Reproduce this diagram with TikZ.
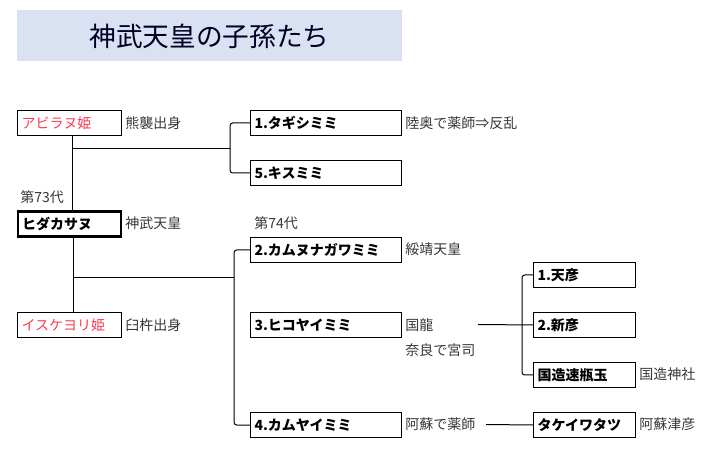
\documentclass[tikz,border=0pt]{standalone}
\usepackage{fontspec}
\setmainfont{Noto Sans CJK JP}
\definecolor{titlebg}{RGB}{217,225,242}
\definecolor{namered}{RGB}{250,60,80}
\definecolor{labgray}{RGB}{55,55,55}
\begin{document}
\begin{tikzpicture}[x=0.75pt,y=-0.75pt,
  bx/.style={draw, line width=0.75pt, inner xsep=3pt, inner ysep=0pt,
    anchor=north west, align=left, minimum height=18.75pt,
    font=\fontsize{10.5}{12}\selectfont\bfseries},
  wl/.style={bx, text width=72pt},
  wr/.style={bx, text width=107.25pt},
  wt/.style={bx, text width=70.5pt},
  hime/.style={font=\fontsize{10.5}{12}\selectfont, text=namered},
  lab/.style={anchor=west, inner sep=0pt, text=labgray,
    font=\fontsize{10.5}{12}\selectfont},
  conn/.style={line width=0.75pt, rounded corners=2pt}]
\useasboundingbox (0,0) rectangle (715,449);
% title
\fill[titlebg] (17,10) rectangle (402,61);
\node[font=\fontsize{20}{22}\selectfont, text=black!85!blue] (title) at (209.5,36) {神武天皇の子孫たち};
% left column
\node[wl, hime] (abira) at (17,110) {アビラヌ姫};
\node[wl, line width=1.6pt, text width=71pt] (hidaka) at (17,210.5) {ヒダカサヌ};
\node[wl, hime] (iske) at (17,312) {イスケヨリ姫};
\node[lab] (l1) at (125,123) {熊襲出身};
\node[lab] (l2) at (125,223) {神武天皇};
\node[lab] (l3) at (125,325) {臼杵出身};
\node[lab] (g73) at (20,197) {第73代};
% middle column
\node[wr] (tagi) at (250,110) {1.タギシミミ};
\node[wr] (kisu) at (250,160) {5.キスミミ};
\node[wr] (kamunu) at (250,237) {2.カムヌナガワミミ};
\node[wr] (hikoya) at (250,312) {3.ヒコヤイミミ};
\node[wr] (kamuya) at (250,412) {4.カムヤイミミ};
\node[lab] (g74) at (254,223) {第74代};
\node[lab] (l4) at (405,123) {陸奥で薬師⇒反乱};
\node[lab] (l5) at (405,249.5) {綏靖天皇};
\node[lab] (l6) at (405,325) {国龍};
\node[lab] (l7) at (405,350) {奈良で宮司};
\node[lab] (l8) at (405,424.5) {阿蘇で薬師};
% right column
\node[wt] (tenhiko) at (533,262) {1.天彦};
\node[wt] (shinhiko) at (533,312) {2.新彦};
\node[wt] (kokuzo) at (533,362) {国造速瓶玉};
\node[wt] (takei) at (533,412) {タケイワタツ};
\node[lab] (l9) at (639,374.5) {国造神社};
\node[lab] (l10) at (639,424.5) {阿蘇津彦};
% junction coordinates
\coordinate (v1) at (72,149);
\coordinate (b1) at (230,149);
\coordinate (v2) at (73,278);
\coordinate (b2) at (234,278);
\coordinate (k1) at (478,324.5);
\coordinate (b3) at (522,324.5);
\coordinate (a1) at (486,424.5);
% connectors
\draw[conn] (abira.south -| v1) -- (hidaka.north -| v1);
\draw[conn] (v1) -- (b1);
\draw[conn] (tagi.west) -| (b1) |- (kisu.west);
\draw[conn] (hidaka.south -| v2) -- (iske.north -| v2);
\draw[conn] (v2) -- (b2);
\draw[conn] (kamunu.west) -| (b2) |- (kamuya.west);
\draw[conn] (k1) -- (shinhiko.west);
\draw[conn] (tenhiko.west) -| (b3) |- (kokuzo.west);
\draw[conn] (a1) -- (takei.west);
\end{tikzpicture}
\end{document}
